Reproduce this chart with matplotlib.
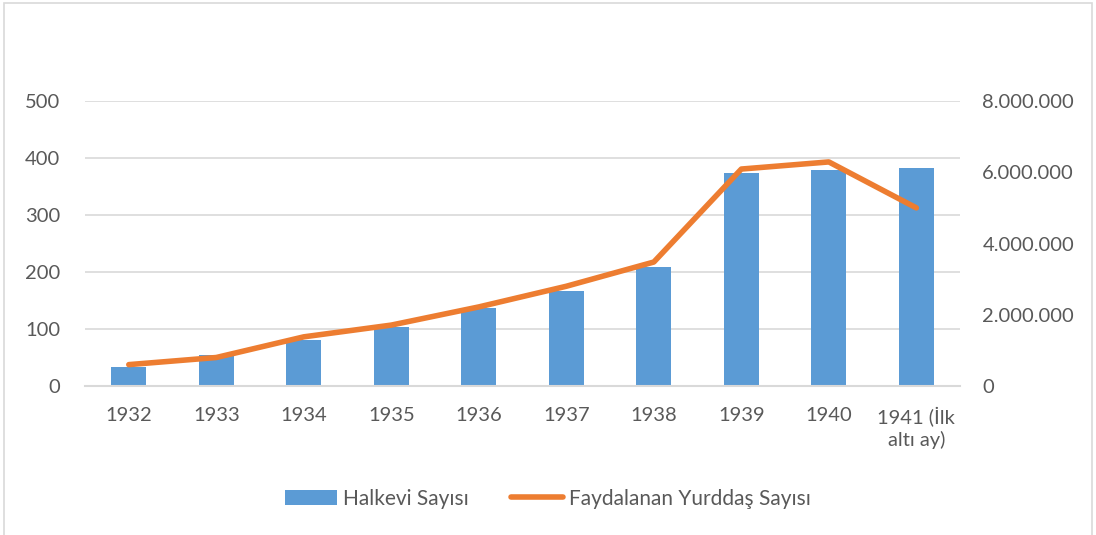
import numpy as np
from matplotlib import pyplot as plt
from matplotlib.ticker import FuncFormatter

years = ['1932', '1933', '1934', '1935', '1936', '1937', '1938', '1939', '1940', '1941 (İlk\naltı ay)']
halkevi = [34, 54, 80, 103, 136, 167, 209, 373, 379, 383]
yurttas = [600000, 800000, 1380000, 1710000, 2220000, 2800000, 3480000, 6090000, 6290000, 5000000]

plt.rcParams['font.family'] = ['Lato', 'DejaVu Sans']
text_color = '#595959'
grid_color = '#d9d9d9'

fig = plt.figure(figsize=(10.96, 5.35), dpi=100)
ax = fig.add_axes([0.0776, 0.2785, 0.7984, 0.5327])
ax2 = ax.twinx()

x = np.arange(len(years))
bars = ax.bar(x, halkevi, width=0.4, color='#5b9bd5', label='Halkevi Sayısı', zorder=2)
line, = ax2.plot(x, yurttas, color='#ed7d31', linewidth=4, solid_capstyle='round',
                 label='Faydalanan Yurddaş Sayısı', zorder=3)

ax.set_xlim(-0.5, len(years) - 0.5)
ax.set_ylim(0, 500)
ax.set_yticks(range(0, 501, 100))
ax2.set_ylim(0, 8000000)
ax2.set_yticks(range(0, 8000001, 2000000))
ax2.yaxis.set_major_formatter(FuncFormatter(lambda v, p: f'{int(v):,}'.replace(',', '.')))

ax.set_xticks(x)
ax.set_xticklabels(years)
ax.yaxis.grid(True, color=grid_color, linewidth=1.2, zorder=0)
ax.set_axisbelow(True)

fs = 14.5
for a in (ax, ax2):
    for s in a.spines.values():
        s.set_visible(False)
    a.tick_params(length=0, labelsize=fs, colors=text_color)
ax.spines['bottom'].set_visible(True)
ax.spines['bottom'].set_color(grid_color)
ax.spines['bottom'].set_linewidth(1.5)
ax.tick_params(axis='x', pad=15)
ax.tick_params(axis='y', pad=18)
ax2.tick_params(axis='y', pad=16)
for lbl in ax.get_xticklabels():
    lbl.set_verticalalignment('top')
    lbl.set_linespacing(1.25)

ax2.set_zorder(ax.get_zorder() + 1)

fig.legend(handles=[bars, line], loc='center', bbox_to_anchor=(0.5, 0.068), ncol=2,
           frameon=False, fontsize=15, labelcolor=text_color, handlelength=2.5,
           columnspacing=2.0, handletextpad=0.3)

fig.patches.append(plt.Rectangle((0.004, -0.01), 0.992, 1.004, transform=fig.transFigure,
                                 fill=False, edgecolor=grid_color, linewidth=1.2))

fig.savefig('out.png', dpi=100)
